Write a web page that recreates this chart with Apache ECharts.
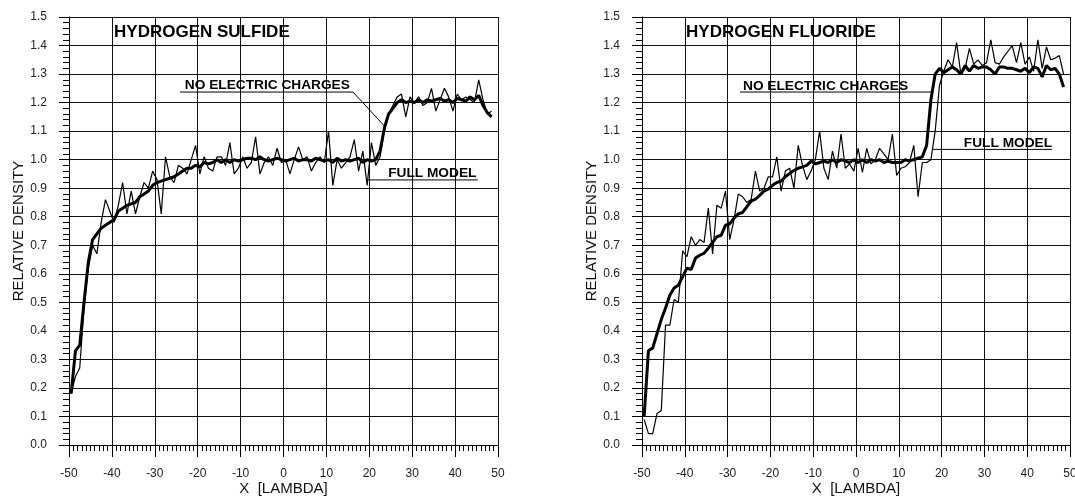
<!DOCTYPE html>
<html>
<head>
<meta charset="utf-8">
<script src="https://cdn.jsdelivr.net/npm/echarts@6/dist/echarts.min.js"></script>
<style>
html,body{margin:0;padding:0;background:#fff;}
#c{width:1075px;height:497px;}
</style>
</head>
<body>
<div id="c"></div>
<script>
// ---- data ----
const xPos = [-49.5,-48.5,-47.5,-46.5,-45.5,-44.5,-43.5,-42.5,-41.5,-40.5,
  -39.5,-38.5,-37.5,-36.5,-35.5,-34.5,-33.5,-32.5,-31.5,-30.5,
  -29.5,-28.5,-27.5,-26.5,-25.5,-24.5,-23.5,-22.5,-21.5,-20.5,
  -19.5,-18.5,-17.5,-16.5,-15.5,-14.5,-13.5,-12.5,-11.5,-10.5,
  -9.5,-8.5,-7.5,-6.5,-5.5,-4.5,-3.5,-2.5,-1.5,-0.5,
  0.5,1.5,2.5,3.5,4.5,5.5,6.5,7.5,8.5,9.5,
  10.5,11.5,12.5,13.5,14.5,15.5,16.5,17.5,18.5,19.5,
  20.5,21.5,22.5,23.5,24.5,25.5,26.5,27.5,28.5,29.5,
  30.5,31.5,32.5,33.5,34.5,35.5,36.5,37.5,38.5,39.5,
  40.5,41.5,42.5,43.5,44.5,45.5,46.5,47.5,48.5];

// Hydrogen sulfide
const h2sFull = [0.18,0.24,0.27,0.48,0.62,0.70,0.67,0.78,0.86,0.82,
  0.78,0.84,0.92,0.81,0.89,0.81,0.87,0.92,0.90,0.96,
  0.93,0.81,1.01,0.94,0.92,0.98,0.97,0.95,1.00,1.05,
  0.95,1.01,0.97,0.96,1.01,1.01,0.98,1.06,0.95,0.97,
  1.01,0.97,0.99,1.08,0.95,0.99,1.01,0.98,1.04,0.99,
  1.00,0.95,1.00,1.045,1.00,1.01,0.96,0.99,1.01,0.99,
  1.10,0.91,1.00,0.97,0.99,1.01,1.07,0.96,1.03,0.91,
  1.06,0.98,1.01,1.10,1.16,1.19,1.22,1.23,1.15,1.22,
  1.20,1.22,1.19,1.20,1.25,1.17,1.21,1.25,1.22,1.17,
  1.23,1.21,1.22,1.21,1.20,1.28,1.21,1.16,1.17];
const h2sNoCharge = [0.18,0.33,0.35,0.50,0.64,0.72,0.74,0.76,0.77,0.78,
  0.79,0.82,0.83,0.84,0.845,0.85,0.87,0.88,0.89,0.91,
  0.92,0.925,0.93,0.935,0.94,0.95,0.96,0.97,0.97,0.98,
  0.975,0.99,0.985,0.99,1.00,0.99,1.00,0.99,1.00,0.995,
  1.00,1.005,1.005,1.00,1.01,1.00,0.995,1.00,1.005,1.00,
  0.995,1.00,1.005,0.995,1.00,1.00,0.995,1.005,1.00,0.995,
  1.00,0.99,1.005,0.995,1.00,0.995,1.00,1.005,0.99,1.00,
  0.995,1.00,1.03,1.11,1.16,1.18,1.20,1.21,1.20,1.205,
  1.20,1.21,1.20,1.21,1.205,1.21,1.215,1.205,1.21,1.20,
  1.215,1.21,1.205,1.22,1.21,1.225,1.19,1.165,1.15];

// Hydrogen fluoride
const hfFull = [0.09,0.04,0.04,0.11,0.12,0.42,0.42,0.51,0.50,0.68,
  0.66,0.73,0.70,0.72,0.71,0.83,0.67,0.84,0.83,0.89,
  0.72,0.79,0.88,0.87,0.85,0.86,0.96,0.89,0.90,0.94,
  0.94,1.01,0.89,0.96,0.97,0.90,1.05,0.98,0.93,0.96,
  1.00,1.10,0.97,0.93,1.03,0.97,1.09,0.97,0.985,0.96,
  1.04,0.955,1.04,0.985,1.00,1.04,1.02,1.00,1.09,0.945,
  0.97,0.975,0.99,1.05,0.87,0.99,0.99,1.00,1.10,1.26,
  1.31,1.35,1.325,1.41,1.30,1.32,1.39,1.335,1.35,1.33,
  1.34,1.42,1.34,1.335,1.36,1.38,1.40,1.34,1.41,1.335,
  1.36,1.31,1.42,1.32,1.395,1.35,1.355,1.365,1.30];
const hfNoCharge = [0.10,0.33,0.34,0.39,0.44,0.48,0.525,0.55,0.56,0.59,
  0.62,0.615,0.655,0.665,0.672,0.69,0.71,0.73,0.735,0.77,
  0.775,0.795,0.81,0.815,0.835,0.855,0.862,0.875,0.89,0.897,
  0.91,0.92,0.925,0.94,0.952,0.962,0.97,0.975,0.98,0.995,
  0.985,0.99,0.995,0.99,1.00,0.99,1.00,0.995,0.99,1.00,
  0.99,1.00,0.99,1.00,0.995,1.00,0.99,0.995,0.99,0.99,
  0.99,1.00,0.995,1.00,1.005,1.01,1.05,1.21,1.30,1.32,
  1.305,1.315,1.325,1.315,1.30,1.33,1.31,1.33,1.32,1.325,
  1.325,1.315,1.30,1.325,1.325,1.32,1.32,1.315,1.31,1.32,
  1.305,1.325,1.32,1.29,1.33,1.315,1.32,1.30,1.255];

const xTicks = [-50,-40,-30,-20,-10,0,10,20,30,40,50];
const yTicks = [0.0,0.1,0.2,0.3,0.4,0.5,0.6,0.7,0.8,0.9,1.0,1.1,1.2,1.3,1.4,1.5];
const titles = ['HYDROGEN SULFIDE','HYDROGEN FLUORIDE'];
const labelNoCharge = 'NO ELECTRIC CHARGES';
const labelFull = 'FULL MODEL';

// ---- chart ----
const FONT = 'Arial, "Liberation Sans", sans-serif';
const chart = echarts.init(document.getElementById('c'), null, {renderer:'canvas'});

function pairs(ys){ return xPos.map((x,i)=>[x, ys[i]]); }

const grids = [
  {left:69, top:17, width:429, height:428, containLabel:false, outerBoundsMode:'none'},
  {left:642, top:17, width:428, height:428, containLabel:false, outerBoundsMode:'none'}
];

function xAxisCfg(i){
  return {
    type:'value', gridIndex:i, min:xTicks[0], max:xTicks[xTicks.length-1], interval:10,
    axisLine:{show:true, onZero:false, lineStyle:{color:'#000', width:1}},
    axisTick:{show:true, length:12, lineStyle:{color:'#000', width:1}},
    minorTick:{show:true, splitNumber:10, length:6, lineStyle:{color:'#000', width:1}},
    splitLine:{show:true, lineStyle:{color:'#111', width:1}},
    axisLabel:{margin:23, fontSize:12, color:'#222', fontFamily:FONT, showMinLabel:true, showMaxLabel:true},
    name:'X  [LAMBDA]', nameLocation:'middle', nameGap:36, nameMoveOverlap:false,
    nameTextStyle:{fontSize:15, color:'#111', fontFamily:FONT}
  };
}
function yAxisCfg(i){
  return {
    type:'value', gridIndex:i, min:yTicks[0], max:yTicks[yTicks.length-1], interval:0.1,
    axisLine:{show:true, onZero:false, lineStyle:{color:'#000', width:1}},
    axisTick:{show:true, length:10, lineStyle:{color:'#000', width:1}},
    minorTick:{show:true, splitNumber:5, length:6, lineStyle:{color:'#000', width:1}},
    splitLine:{show:true, lineStyle:{color:'#111', width:1}},
    axisLabel:{margin:22, fontSize:12, color:'#222', fontFamily:FONT,
      formatter:v=>Number(v).toFixed(1), showMinLabel:true, showMaxLabel:true},
    name:'RELATIVE DENSITY', nameLocation:'middle', nameGap:43, nameMoveOverlap:false,
    nameTextStyle:{fontSize:15, color:'#111', fontFamily:FONT}
  };
}
function lineSeries(i, ys, w){
  return {type:'line', xAxisIndex:i, yAxisIndex:i, data:pairs(ys), showSymbol:false, symbol:'none',
    lineStyle:{color:'#000', width:w}, silent:true, animation:false, clip:true, z:3};
}

chart.setOption({
  animation:false,
  backgroundColor:'#fff',
  grid:grids,
  xAxis:[xAxisCfg(0), xAxisCfg(1)],
  yAxis:[yAxisCfg(0), yAxisCfg(1)],
  series:[
    lineSeries(0, h2sNoCharge, 3),
    lineSeries(0, h2sFull, 1.2),
    lineSeries(1, hfNoCharge, 3),
    lineSeries(1, hfFull, 1.2)
  ]
});

// annotations placed in data coordinates of each panel
const annots = [
  { series:0,
    texts:[
      {t:titles[0], x:-39.5, y:1.448, size:17},
      {t:labelNoCharge, x:-23.0, y:1.262, size:13.7},
      {t:labelFull, x:24.4, y:0.953, size:13.7}
    ],
    lines:[
      [[-24.1,1.237],[16.2,1.237],[23.7,1.115]],
      [[19.7,0.929],[45.3,0.929]]
    ]
  },
  { series:2,
    texts:[
      {t:titles[1], x:-39.7, y:1.448, size:17},
      {t:labelNoCharge, x:-26.4, y:1.259, size:13.7},
      {t:labelFull, x:25.2, y:1.057, size:13.7}
    ],
    lines:[
      [[-27.1,1.237],[17.8,1.237]],
      [[18.0,1.036],[45.8,1.036]]
    ]
  }
];
const elems = [];
annots.forEach(a=>{
  const P = p => chart.convertToPixel({seriesIndex:a.series}, p);
  a.texts.forEach(tx=>{
    const p = P([tx.x, tx.y]);
    elems.push({type:'text', x:p[0], y:p[1], z:10,
      style:{text:tx.t, fill:'#000', font:'bold '+tx.size+'px '+FONT, textAlign:'left', textVerticalAlign:'middle'}});
  });
  a.lines.forEach(ln=>{
    const pts = ln.map(P);
    elems.push({type:'polyline', z:10, shape:{points:pts}, style:{stroke:'#000', lineWidth:1, fill:null}});
  });
});
chart.setOption({graphic:elems});
</script>
</body>
</html>
